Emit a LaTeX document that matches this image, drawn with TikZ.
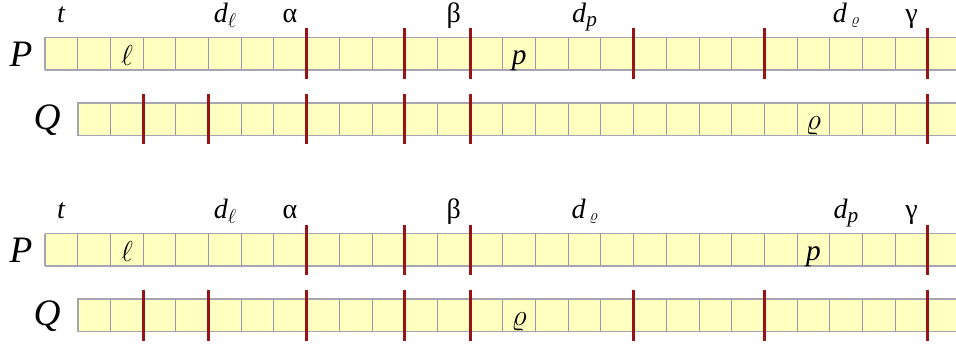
\documentclass[tikz,border=0pt]{standalone}
\usepackage{fix-cm}
\usepackage{fontspec}
\setmainfont{Liberation Serif}
\usepackage{amsmath}
\definecolor{cellfill}{RGB}{255,255,192}
\definecolor{gridc}{RGB}{150,150,178}
\definecolor{edgec}{RGB}{165,165,178}
\definecolor{barred}{RGB}{150,20,20}
\newcommand\lowsub[2]{\raisebox{#1}{#2}}
\newcommand\ellh[1]{\resizebox{!}{#1}{$\ell$}}
\newcommand\rhoh[1]{\resizebox*{!}{#1}{$\varrho$}}
\begin{document}
\begin{tikzpicture}[x=0.75pt,y=-0.75pt]
\tikzset{
  cell/.style={fill=cellfill, draw=gridc, line width=0.75pt},
  rowedge/.style={draw=edgec, line width=1.2pt},
  bar/.style={draw=barred, line width=2.2pt},
  toplab/.style={font=\fontsize{21}{24}\selectfont, anchor=base, inner sep=0pt},
  celllab/.style={font=\fontsize{22}{24}\selectfont, anchor=base, inner sep=0pt},
  rowlab/.style={font=\fontsize{28}{30}\selectfont\itshape, inner sep=0pt},
}
\path[use as bounding box] (0,0) rectangle (956,347);
\clip (0,0) rectangle (956,347);
% ---------- rows ----------
\foreach \yy in {37.3,233.5}{
  \foreach \i in {0,...,28}{
    \draw[cell] (45+\i*32.7,\yy) rectangle ++(32.7,32.7);
  }
  \draw[rowedge] (45,\yy) -- (962,\yy);
  \draw[rowedge] (45,\yy+32.7) -- (962,\yy+32.7);
  \draw[rowedge] (45,\yy) -- (45,\yy+32.7);
}
\foreach \yy in {102.7,298.9}{
  \foreach \i in {1,...,28}{
    \draw[cell] (45+\i*32.7,\yy) rectangle ++(32.7,32.7);
  }
  \draw[rowedge] (77.7,\yy) -- (962,\yy);
  \draw[rowedge] (77.7,\yy+32.7) -- (962,\yy+32.7);
  \draw[rowedge] (77.7,\yy) -- (77.7,\yy+32.7);
}
% ---------- bars ----------
\foreach \i in {8,11,13,18,22,27}{ \draw[bar] (45+\i*32.7,28.3) -- (45+\i*32.7,79); }
\foreach \i in {3,5,8,11,13,27}{ \draw[bar] (45+\i*32.7,93.7) -- (45+\i*32.7,144.4); }
\foreach \i in {8,11,13,27}{ \draw[bar] (45+\i*32.7,224.5) -- (45+\i*32.7,275.2); }
\foreach \i in {3,5,8,11,13,18,22,27}{ \draw[bar] (45+\i*32.7,289.9) -- (45+\i*32.7,340.6); }
% ---------- row labels ----------
\node[rowlab] (P1) at (21,54) {P};
\node[rowlab] (Q1) at (47,120) {Q};
\node[rowlab] (P2) at (21,250) {P};
\node[rowlab] (Q2) at (47,316) {Q};
% ---------- top diagram labels ----------
\node[toplab] (t1) at (61.3,22) {\textit{t}};
\node[toplab] (dl1) at (225,22) {\textit{d}\lowsub{-4pt}{\ellh{10.5pt}}};
\node[toplab] (a1) at (290,22) {α};
\node[toplab] (b1) at (453.7,22) {β};
\node[toplab] (dp1) at (584.6,22) {\textit{d}\lowsub{-3pt}{\fontsize{16}{16}\selectfont\textit{p}}};
\node[toplab] (dr1) at (846,22) {\textit{d}\hspace{3pt}\lowsub{-2pt}{\rhoh{7.5pt}}};
\node[toplab] (g1) at (911.6,22) {γ};
\node[celllab] (l1) at (127,65) {\ellh{15pt}};
\node[celllab] (p1) at (519.2,64) {\textit{p}};
\node[celllab] (r1) at (813.5,129) {\rhoh{14pt}};
% ---------- bottom diagram labels ----------
\node[toplab] (t2) at (61.3,218.2) {\textit{t}};
\node[toplab] (dl2) at (225,218.2) {\textit{d}\lowsub{-4pt}{\ellh{10.5pt}}};
\node[toplab] (a2) at (290,218.2) {α};
\node[toplab] (b2) at (453.7,218.2) {β};
\node[toplab] (dr2) at (584.6,218.2) {\textit{d}\hspace{3pt}\lowsub{-2pt}{\rhoh{7.5pt}}};
\node[toplab] (dp2) at (846,218.2) {\textit{d}\lowsub{-3pt}{\fontsize{16}{16}\selectfont\textit{p}}};
\node[toplab] (g2) at (911.6,218.2) {γ};
\node[celllab] (l2) at (127,261.2) {\ellh{15pt}};
\node[celllab] (p2) at (813.5,260.2) {\textit{p}};
\node[celllab] (r2) at (519.2,325.2) {\rhoh{14pt}};
\end{tikzpicture}
\end{document}
